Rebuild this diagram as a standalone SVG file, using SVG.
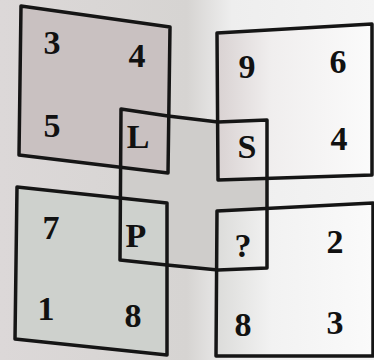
<svg xmlns="http://www.w3.org/2000/svg" width="374" height="360" viewBox="0 0 374 360">
  <defs>
    <linearGradient id="bg" gradientUnits="userSpaceOnUse" x1="0" y1="0" x2="374" y2="0">
      <stop offset="0" stop-color="#dcd8d8"/>
      <stop offset="0.5" stop-color="#d6d4d2"/>
      <stop offset="0.62" stop-color="#eeeeee"/>
      <stop offset="1" stop-color="#f4f4f4"/>
    </linearGradient>
    <linearGradient id="right" gradientUnits="userSpaceOnUse" x1="217" y1="0" x2="373" y2="0">
      <stop offset="0" stop-color="#d9d2d2"/>
      <stop offset="0.35" stop-color="#f0eeee"/>
      <stop offset="1" stop-color="#fbfbfb"/>
    </linearGradient>
    <linearGradient id="rightb" gradientUnits="userSpaceOnUse" x1="217" y1="0" x2="373" y2="0">
      <stop offset="0" stop-color="#dcdcda"/>
      <stop offset="0.35" stop-color="#f2f2f2"/>
      <stop offset="1" stop-color="#fafafa"/>
    </linearGradient>
  </defs>
  <style>
    .box { stroke: #151515; stroke-width: 3.5; stroke-linejoin: round; }
    .outline { fill: none; stroke: #151515; stroke-width: 3.5; stroke-linejoin: round; }
    text { font-family: "Liberation Serif", "Times New Roman", serif; font-size: 34px; font-weight: bold; fill: #111; text-anchor: middle; }
  </style>
  <rect x="0" y="0" width="374" height="360" fill="url(#bg)"/>
  <polygon id="center-fill" points="121,109 168,116 218,122 267,120 267,268 218,270 167,265 120,260" fill="#cfcdcb"/>

  <g id="top-left">
    <polygon class="box" points="21,6 170,27 168,173 19,155" fill="#c9c1c1"/>
    <text x="52" y="54">3</text>
    <text x="137" y="67">4</text>
    <text x="52" y="137">5</text>
  </g>
  <g id="top-right">
    <polygon class="box" points="217,33 372,24 372,175 218,180" fill="url(#right)"/>
    <text x="247" y="78">9</text>
    <text x="338" y="73">6</text>
    <text x="339" y="150">4</text>
  </g>
  <g id="bottom-left">
    <polygon class="box" points="17,187 167,203 167,355 15,339" fill="#ced1cd"/>
    <text x="51" y="239">7</text>
    <text x="46" y="320">1</text>
    <text x="133" y="327">8</text>
  </g>
  <g id="bottom-right">
    <polygon class="box" points="217,211 373,203 373,356 216,356" fill="url(#rightb)"/>
    <text x="335" y="253">2</text>
    <text x="243" y="336">8</text>
    <text x="335" y="334">3</text>
  </g>
  <g id="center">
    <polygon class="outline" points="121,109 168,116 218,122 267,120 267,268 218,270 167,265 120,260"/>
    <text x="138" y="148">L</text>
    <text x="247" y="158">S</text>
    <text x="136" y="247">P</text>
    <text x="243" y="257">?</text>
  </g>
  <g id="connectors"/>
</svg>
